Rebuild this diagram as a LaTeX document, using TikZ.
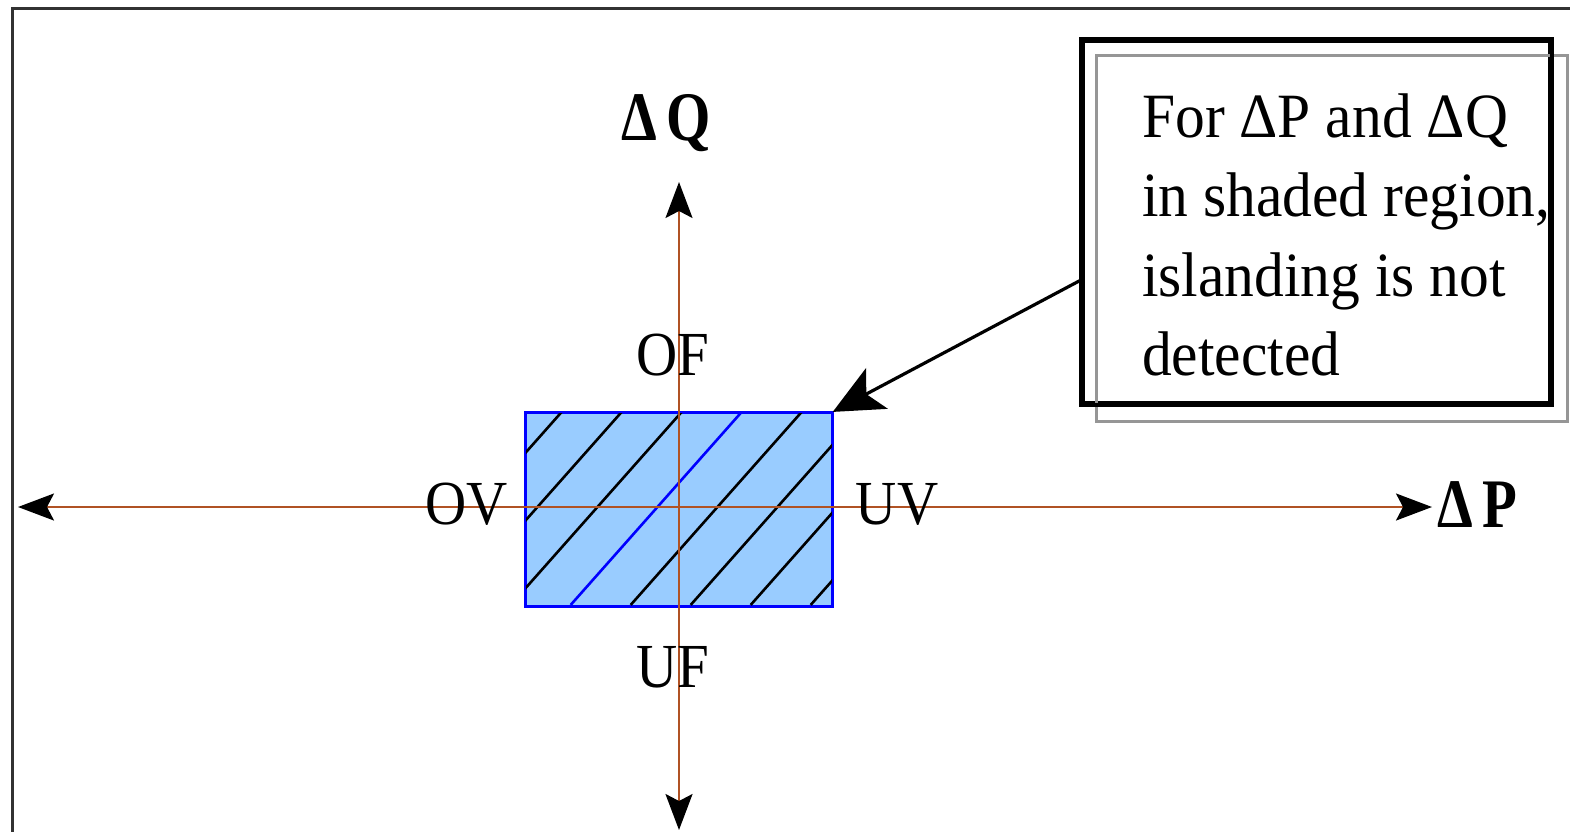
\documentclass[tikz,border=0pt]{standalone}
\usepackage{fontspec}
\setmainfont{Liberation Serif}
\usepackage{graphicx}
\usetikzlibrary{arrows.meta, calc}
\definecolor{axisbrown}{RGB}{176, 82, 36}
\definecolor{shadeblue}{RGB}{153, 204, 255}
\definecolor{edgeblue}{RGB}{0, 0, 255}
\definecolor{framegray}{RGB}{50, 50, 50}
\definecolor{shadowgray}{RGB}{150, 150, 150}
\newcommand{\tallx}[2]{\scalebox{1}[#1]{#2}}

\begin{document}
\begin{tikzpicture}[x=1pt, y=-1pt,
    axis/.style={axisbrown, line width=2.2pt,
      {Stealth[length=36pt, width=27pt, inset=7pt, color=black]}-{Stealth[length=36pt, width=27pt, inset=7pt, color=black]}},
    lbl/.style={inner sep=0pt, anchor=base, font=\fontsize{57}{68}\selectfont},
    shadebox/.style={draw=edgeblue, fill=shadeblue, line width=2pt,
      minimum width=306pt, minimum height=193pt, inner sep=0pt},
    hatch/.style={line width=2.6pt, black}]

    \useasboundingbox (0,0) rectangle (1570,831);
    \clip (0,0) rectangle (1570,831);

    % Frame
    \draw[framegray, line width=3pt] (12,8) rectangle (1620,880);

    % Shaded region
    \node[shadebox] (shade) at (678.7,509.4) {};
    \begin{scope}
      \clip (shade.south west) rectangle (shade.north east);
      \foreach \k in {0,...,7}{
        \ifnum\k=3
          \draw[hatch, edgeblue] ($(shade.north west)+(37+60*\k,0)$) -- ++(-171,193);
        \else
          \draw[hatch] ($(shade.north west)+(37+60*\k,0)$) -- ++(-171,193);
        \fi
      }
    \end{scope}
    \draw[edgeblue, line width=2pt] (shade.south west) rectangle (shade.north east);

    % Axes
    \coordinate (pwest) at (18,507);
    \coordinate (peast) at (1432,507);
    \coordinate (qnorth) at (679,182);
    \coordinate (qsouth) at (679,830);
    \draw[axis] (pwest) -- (peast);
    \draw[axis] (qsouth) -- (qnorth);

    % Axis labels
    \node[lbl, font=\fontsize{57}{68}\selectfont\bfseries] (dq) at (666,140) {\tallx{1.22}{Δ\,Q}};
    \node[lbl, anchor=base west, font=\fontsize{57}{68}\selectfont\bfseries] (dp) at (1437,527) {\tallx{1.22}{Δ\,P}};
    \node[lbl] (of) at (673,375) {\tallx{1.1}{OF}};
    \node[lbl] (uf) at (673,687) {\tallx{1.1}{UF}};
    \node[lbl] (ov) at (467,524) {\tallx{1.1}{OV}};
    \node[lbl] (uv) at (897,524) {\tallx{1.1}{UV}};

    % Note box
    \node[draw, line width=4pt, minimum width=467pt, minimum height=362pt,
      inner sep=0pt] (note) at (1316.5,222) {};
    \draw[shadowgray, line width=3pt]
      ([shift={(15.5pt,-16pt)}]note.south west) rectangle ([shift={(15.5pt,-16pt)}]note.north east);
    \draw[line width=4pt] (note.south west) rectangle (note.north east);
    \node[inner sep=0pt, anchor=base west, font=\fontsize{59.5}{75}\selectfont] (notetext) at (1142,137)
      {\tallx{1.06}{\begin{tabular}[t]{@{}l@{}}For ΔP and ΔQ\\ in shaded region,\\ islanding is not\\ detected\end{tabular}}};

    % Arrow to region
    \draw[line width=3.2pt, -{Stealth[length=50pt, width=46pt, inset=12pt]}]
      ([yshift=-58pt]note.west) -- (shade.north east);

  \end{tikzpicture}
\end{document}
